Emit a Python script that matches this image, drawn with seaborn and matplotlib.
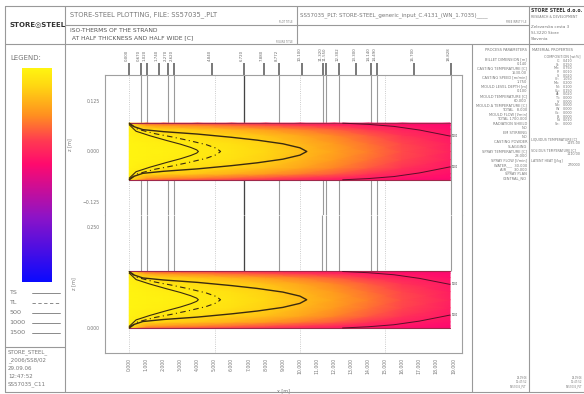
import numpy as np
import seaborn as sns
import matplotlib.pyplot as plt
from matplotlib.lines import Line2D
from matplotlib.colors import LinearSegmentedColormap

# temperature field (rows = distance from centre, cols = casting length)
field_x = [0.0, 1.0, 2.0, 4.0, 6.0, 8.0, 10.0, 12.0, 14.0, 16.0, 18.8]
field_z = [0.0, 0.02, 0.04, 0.055, 0.065, 0.07]
field_t = [
    [1540, 1535, 1530, 1510, 1480, 1430, 1360, 1280, 1190, 1090, 975],
    [1540, 1530, 1520, 1495, 1460, 1410, 1340, 1260, 1170, 1075, 965],
    [1535, 1505, 1485, 1450, 1410, 1360, 1290, 1210, 1120, 1030, 940],
    [1525, 1440, 1410, 1370, 1320, 1260, 1190, 1120, 1040, 970, 915],
    [1500, 1280, 1240, 1200, 1150, 1100, 1050, 1000, 960, 925, 895],
    [1470, 1150, 1120, 1090, 1060, 1020, 990, 960, 930, 905, 885],
]

# isotherm fronts (one branch, mirrored about the centre)
ts_x = [0.0, 0.3, 0.8, 2.0, 4.0, 6.0, 7.5, 9.0, 10.0, 10.4]
ts_z = [0.070, 0.061, 0.054, 0.049, 0.043, 0.035, 0.028, 0.019, 0.009, 0.0]
tl_x = [0.0, 0.5, 1.5, 2.5, 3.5, 4.5, 5.1, 5.35]
tl_z = [0.068, 0.055, 0.044, 0.036, 0.027, 0.017, 0.008, 0.0]
t1500_x = [0.0, 0.4, 1.2, 2.2, 3.0, 3.6, 3.95, 4.05]
t1500_z = [0.066, 0.050, 0.039, 0.027, 0.018, 0.010, 0.004, 0.0]
t1000_x = [12.5, 14.0, 15.5, 17.0, 18.8]
t1000_z = [0.070, 0.067, 0.062, 0.053, 0.038]

# machine positions along the strand [m]
line_pos = [0.67, 1.02, 2.27, 2.62, 6.72, 8.772, 11.32, 11.55, 12.302, 14.14, 14.49, 18.828]
mark_pos = [0.0, 1.74, 4.84, 7.88, 10.10, 13.30, 16.70]
x_ticks = list(range(20))

process_lines = ["PROCESS PARAMETERS", "", "BILLET DIMENSION [m]", "0.140",
                 "CASTING TEMPERATURE [C]", "1530.00", "CASTING SPEED [m/min]", "1.750",
                 "MOULD LEVEL DEPTH [m]", "0.100", "MOULD TEMPERATURE [C]", "60.000",
                 "MOULD \u0394 TEMPERATURE [C]", "TOTAL   8.000", "MOULD FLOW [l/min]",
                 "TOTAL 1700.000", "RADIATION SHIELD", "NO", "EM STIRRING", "NO",
                 "CASTING POWDER", "SLAGGING", "SPRAY TEMPERATURE [C]", "28.000",
                 "SPRAY FLOW [l/min]", "WATER___  30.000", "AIR___  30.000",
                 "SPRAY PLAN", "CENTRAL_NO"]
elements = ["C:", "Si:", "Mn:", "P:", "S:", "Cr:", "Mo:", "Ni:", "Cu:", "Al:",
            "Ti:", "V:", "Nb:", "W:", "Co:", "B:", "N:", "Sn:"]
element_vals = ["0.410", "0.250", "0.750", "0.010", "0.020", "1.050", "0.200", "0.100",
                "0.150", "0.020", "0.000", "0.000", "0.000", "0.000", "0.000", "0.000",
                "0.010", "0.000"]

W, H = 584, 394
sns.set_style("white")
plt.rcParams['font.family'] = ['DejaVu Sans']
fig = plt.figure(figsize=(W / 100, H / 100), dpi=100)

cmap = LinearSegmentedColormap.from_list(
    "iso", [(0.0, "#0a0aff"), (0.3, "#8c14c8"), (0.55, "#ff0a6e"),
            (0.66, "#ff3a52"), (0.78, "#ff9020"), (0.92, "#ffd812"), (1.0, "#fff510")])
vmin, vmax = 100, 1550
grey = "#777777"


def fx(x):
    return x / W


def fy(y):
    return 1 - y / H


def fline(x0, y0, x1, y1, lw=0.8, color="#999999"):
    fig.add_artist(Line2D([fx(x0), fx(x1)], [fy(y0), fy(y1)], lw=lw, color=color,
                          transform=fig.transFigure))


def ftext(x, y, s, size=4, **kw):
    kw.setdefault("color", grey)
    kw.setdefault("va", "center")
    fig.text(fx(x), fy(y), s, fontsize=size, **kw)


# frame
fline(5, 6, 584, 6)
fline(5, 6, 5, 392)
fline(5, 392, 584, 392)
fline(5, 44, 584, 44)
fline(65, 25, 529, 25)
fline(65, 6, 65, 392)
fline(297, 6, 297, 44)
fline(529, 6, 529, 392)
fline(472, 44, 472, 392)
fline(5, 347, 65, 347)

ftext(10, 24, "STORE\u25CESTEEL", 5, color="#333333", weight="bold")
ftext(70, 15, "STORE-STEEL PLOTTING, FILE: SS57035_.PLT", 4.8)
ftext(70, 31, "ISO-THERMS OF THE STRAND", 4.3, color="#555555")
ftext(70, 38, " AT HALF THICKNESS AND HALF WIDE [C]", 4.3, color="#555555")
ftext(293, 22, "PLOT TITLE", 1.8, ha="right")
ftext(293, 42, "FIGURE TITLE", 1.8, ha="right")
ftext(300, 15, "SS57035_PLT: STORE-STEEL_generic_input_C.4131_(WN_1.7035)____", 4)
ftext(526, 22, "FREE INPUT FILE", 1.8, ha="right")
ftext(531, 11, "STORE STEEL d.o.o.", 3.3, color="#333333", weight="bold")
ftext(531, 17, "RESEARCH & DEVELOPMENT", 2.3)
ftext(531, 27, "Zelezarska cesta 3", 3)
ftext(531, 33, "SI-3220 Store", 3)
ftext(531, 39, "Slovenia", 3)

# process / material panels
for i, s in enumerate(process_lines):
    ftext(527, 50 + i * 4.6, s, 2.6, ha="right")
ftext(532, 50, "MATERIAL PROPERTIES", 2.6)
ftext(580, 56, "COMPOSITION [wt%]", 2.5, ha="right")
for i, (e, v) in enumerate(zip(elements, element_vals)):
    ftext(560, 61 + i * 3.7, e, 2.4, ha="right")
    ftext(563, 61 + i * 3.7, v, 2.4)
ftext(531, 139, "LIQUIDUS TEMPERATURE [C]", 2.3)
ftext(580, 143, "1495.00", 2.4, ha="right")
ftext(531, 150, "SOLIDUS TEMPERATURE [C]", 2.3)
ftext(580, 154, "1410.00", 2.4, ha="right")
ftext(531, 161, "LATENT HEAT [J/kg]", 2.3)
ftext(580, 165, "270000", 2.4, ha="right")
for x0 in (527, 582):
    ftext(x0, 378, "29.09.06", 1.8, ha="right")
    ftext(x0, 382, "12:47:52", 1.8, ha="right")
    ftext(x0, 386, "SS57035_PLT", 1.8, ha="right")

# legend column
ftext(10, 58, "LEGEND:", 5)
cax = fig.add_axes([fx(22), fy(282), fx(52) - fx(22), fy(68) - fy(282)])
grad = np.linspace(vmax, vmin, 256).reshape(-1, 1)
cax.imshow(grad, aspect="auto", cmap=cmap, vmin=vmin, vmax=vmax,
           extent=[0, 1, vmin, vmax])
cax.set_xticks([])
cax.set_yticks(np.arange(vmin, vmax + 1, 25))
cax.tick_params(axis="y", length=8, width=0.6, color="#999999", labelleft=False,
                direction="out", pad=0)
for sp in cax.spines.values():
    sp.set_visible(False)

leg_rows = [("TS", "-", 293), ("TL", (0, (4, 3)), 303), ("500", "-", 313),
            ("1000", "-", 323), ("1500", "-", 333)]
for lab, ls, y in leg_rows:
    ftext(9, y, lab, 4.6)
    fig.add_artist(Line2D([fx(32), fx(60)], [fy(y), fy(y)], lw=0.6, ls=ls,
                          color="#777777", transform=fig.transFigure))
for i, s in enumerate(["STORE_STEEL_", "_2006/SS8/02", "29.09.06", "12:47:52", "SS57035_C11"]):
    ftext(8, 352 + i * 8, s, 4)

# strand axes
ax_up = fig.add_axes([fx(105), fy(215), fx(462) - fx(105), fy(75) - fy(215)])
ax_lo = fig.add_axes([fx(105), fy(353), fx(462) - fx(105), fy(215) - fy(353)])
xlim = (-1.42, 19.49)
ax_up.set_xlim(xlim)
ax_lo.set_xlim(xlim)
ax_up.set_ylim(-0.157, 0.189)
ax_lo.set_ylim(-0.062, 0.28)

t = np.array(field_t, dtype=float)
zh = np.array(field_z)
z_full = np.concatenate([-zh[::-1], zh[1:]])
t_full = np.vstack([t[::-1], t[1:]])
X, Z = np.meshgrid(field_x, z_full)

fronts = [(ts_x, ts_z, "-", 1.0), (tl_x, tl_z, (0, (5, 3, 1, 3)), 0.8),
          (t1500_x, t1500_z, "-", 0.8)]

for ax, off, zlo in [(ax_up, 0.0, None), (ax_lo, 0.07, 0.14)]:
    ax.pcolormesh(X, Z + off, t_full, shading="gouraud", cmap=cmap,
                  vmin=vmin, vmax=vmax, zorder=3)
    ax.plot([field_x[0], field_x[-1]], [off + 0.07, off + 0.07], color="#a0284a", lw=0.8, zorder=4)
    ax.plot([field_x[0], field_x[-1]], [off - 0.07, off - 0.07], color="#a0284a", lw=0.8, zorder=4)
    top = ax.get_ylim()[1]
    bot = ax.get_ylim()[0] if zlo is None else zlo
    ax.vlines(line_pos, bot, top, color="#9a9a9a", lw=0.8, zorder=1)
    ax.vlines([6.72], bot, top, color="#444444", lw=0.9, zorder=1)
    ax.vlines([0, 5, 10, 15], ax.get_ylim()[0], top, color="#bbbbbb", lw=0.6,
              linestyles=":", zorder=1)
    for fxs, fzs, ls, lw in fronts:
        xs = list(fxs) + list(fxs[::-1])
        zs = [z + off for z in fzs] + [-z + off for z in fzs[::-1]]
        sns.lineplot(x=xs, y=zs, sort=False, estimator=None, ax=ax, color="#3a2a10",
                     lw=lw, linestyle=ls, zorder=5)
    for sgn in (1, -1):
        sns.lineplot(x=t1000_x, y=[sgn * z + off for z in t1000_z], sort=False,
                     estimator=None, ax=ax, color="#5a1028", lw=0.7, zorder=5)
        ax.text(18.9, sgn * t1000_z[-1] + off, "1000", fontsize=1.8, color="#333333",
                va="center", zorder=6)
    ax.set_ylabel("z [m]", fontsize=3.5, color=grey, labelpad=8)
    for sp in ax.spines.values():
        sp.set_color("#a0a0a0")
        sp.set_linewidth(0.8)
    ax.tick_params(axis="both", direction="in", colors="#888888", labelcolor=grey,
                   labelsize=3.3, length=3, width=0.5)
    ax.tick_params(which="minor", direction="in", colors="#888888", length=2, width=0.5)

ax_up.spines["bottom"].set_visible(False)
ax_lo.spines["top"].set_visible(False)
ax_up.set_xticks([])
ax_up.set_yticks([-0.125, 0.0, 0.125])
ax_up.set_yticklabels(["\u22120.125", "0.000", "0.125"])
ax_up.set_yticks(np.arange(-0.15, 0.19, 0.025), minor=True)
ax_lo.set_yticks([0.0, 0.25])
ax_lo.set_yticklabels(["0.000", "0.250"])
ax_lo.set_yticks(np.arange(-0.05, 0.28, 0.025), minor=True)
ax_lo.set_xticks(x_ticks)
ax_lo.set_xticklabels([f"{v:.3f}" for v in x_ticks], rotation=90)
ax_lo.set_xticks(np.arange(0, 19.6, 0.5), minor=True)
ax_lo.set_xlabel("x [m]", fontsize=3.5, color=grey, labelpad=10)

# stubs and labels above the strand
ytop = ax_up.get_ylim()[1]
ax_up.vlines(line_pos + mark_pos, ytop, ytop + 0.03, color="#555555", lw=1.1, clip_on=False)
for p in line_pos + mark_pos:
    ax_up.text(p - 0.12, ytop + 0.034, f"{p:.3f}", rotation=90, fontsize=2.8,
               color="#666666", ha="center", va="bottom", clip_on=False)

fig.savefig("out.png", dpi=100)
